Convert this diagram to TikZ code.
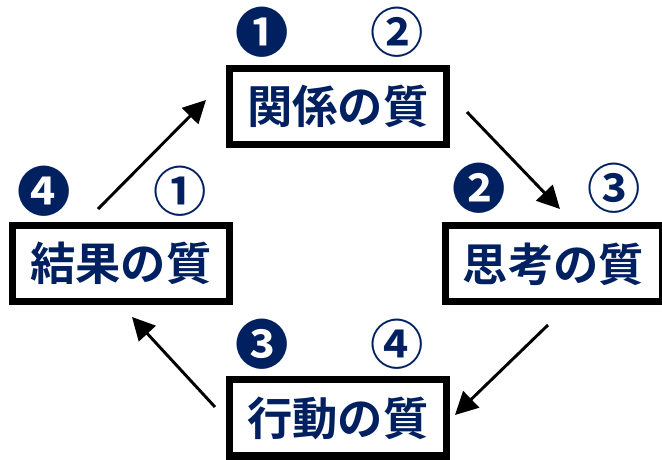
\documentclass[tikz,border=0pt]{standalone}
\usepackage{fontspec}
\newfontfamily\jpfont{Noto Sans CJK JP}[BoldFont={Noto Sans CJK JP Bold}]
\usetikzlibrary{arrows.meta}
\definecolor{navy}{RGB}{0,32,96}
\newcommand{\qualnode}[3]{%
  \node[draw=black,line width=5.25pt,minimum width=162.75pt,minimum height=57pt,
        text=navy,font=\jpfont\bfseries\fontsize{34}{34}\selectfont] (#1) at (#2) {#3};
}
\newcommand{\numnode}[3]{%
  \node[text=navy,inner sep=0pt,font=\jpfont\bfseries\fontsize{40}{40}\selectfont] (#1) at (#2) {#3};
}

\begin{document}
\begin{tikzpicture}[x=0.75pt,y=-0.75pt]
  \useasboundingbox (0,0) rectangle (662,460);

  \qualnode{Q1}{338,106.5}{関係の質}
  \qualnode{Q2}{553.5,264}{思考の質}
  \qualnode{Q3}{338,418}{行動の質}
  \qualnode{Q4}{121,263.5}{結果の質}

  \numnode{N1}{262.5,32.5}{❶}
  \numnode{C2}{397,32.5}{②}
  \numnode{N2}{479.5,188}{❷}
  \numnode{C3}{614.5,188}{③}
  \numnode{N3}{261.7,344}{❸}
  \numnode{C4}{397.5,344}{④}
  \numnode{N4}{44,191}{❹}
  \numnode{C1}{180.5,191}{①}

  \coordinate (a1) at (467,112);
  \coordinate (b1) at (560,209);
  \coordinate (a2) at (548,325);
  \coordinate (b2) at (455,415);
  \coordinate (a3) at (215,407);
  \coordinate (b3) at (132,317);
  \coordinate (a4) at (98,209);
  \coordinate (b4) at (206,100);

  \draw[-{Triangle[length=17pt,width=17pt]},line width=2.2pt] (a1) -- (b1);
  \draw[-{Triangle[length=17pt,width=17pt]},line width=2.2pt] (a2) -- (b2);
  \draw[-{Triangle[length=17pt,width=17pt]},line width=2.2pt] (a3) -- (b3);
  \draw[-{Triangle[length=17pt,width=17pt]},line width=2.2pt] (a4) -- (b4);
\end{tikzpicture}
\end{document}
